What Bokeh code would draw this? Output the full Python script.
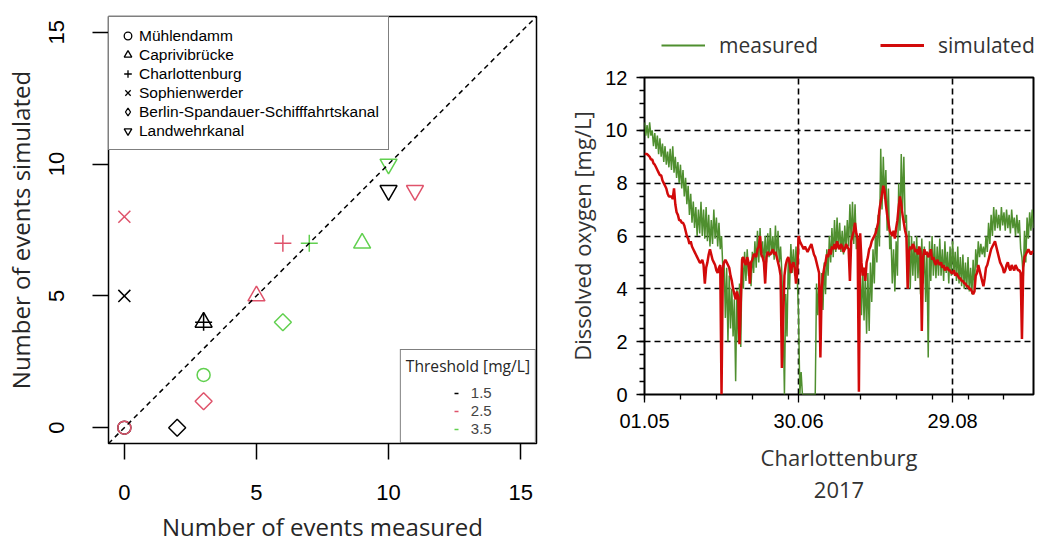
import numpy as np
from bokeh.plotting import figure
from bokeh.models import FixedTicker, Legend, LegendItem, Slope, LinearAxis, Range1d
from bokeh.layouts import row, column
from bokeh.embed import file_html
from bokeh.resources import INLINE

# ---------------- left panel data ----------------
stations = ["Mühlendamm", "Caprivibrücke", "Charlottenburg", "Sophienwerder",
            "Berlin-Spandauer-Schifffahrtskanal", "Landwehrkanal"]
station_markers = ["circle", "triangle", "cross", "x", "square", "inverted_triangle"]
thresholds = ["1.5", "2.5", "3.5"]
threshold_colors = ["#000000", "#DF536B", "#61D04F"]
nan = float("nan")
measured_15 = [0, 3, 3, 0, 2, 10]
simulated_15 = [0, 4, 4, 5, 0, 9]
measured_25 = [0, 5, 6, 0, 3, 11]
simulated_25 = [0, 5, 7, 8, 1, 9]
measured_35 = [3, 9, 7, nan, 6, 10]
simulated_35 = [2, 7, 7, nan, 4, 10]
axis_ticks_left = [0, 5, 10, 15]

# ---------------- right panel data ----------------
date_tick_days = [0, 60, 120]
date_tick_labels = ["01.05", "30.06", "29.08"]
series_names = ["measured", "simulated"]
# dissolved oxygen, two readings per day (00:00, 12:00) from 01.05
measured_do = [
    10.3, 9.8, 10.2, 9.7, 10.3, 9.8, 10.0, 9.4, 9.9, 9.3, 9.8, 9.1, 9.7, 9.0, 9.5, 8.8,
    9.4, 8.7, 9.2, 8.6, 9.3, 8.5, 9.4, 8.4, 9.0, 8.2, 8.8, 8.0, 8.7, 7.8, 8.5, 7.5,
    8.2, 7.2, 7.9, 6.8, 7.6, 6.5, 7.3, 6.3, 7.1, 6.0, 7.0, 6.1, 7.3, 6.0, 7.0, 5.9,
    7.1, 5.8, 6.8, 5.6, 6.6, 5.7, 7.0, 5.9, 6.7, 5.6, 6.5, 5.5, 6.0, 4.8, 5.0, 2.9,
    4.8, 2.0, 4.5, 2.5, 4.0, 2.2, 3.6, 0.5, 4.0, 2.0, 4.2, 1.8, 5.2, 4.0, 5.4, 4.3,
    5.5, 4.5, 5.0, 4.1, 5.4, 4.6, 5.8, 4.8, 6.2, 5.0, 6.3, 5.2, 5.8, 4.9, 6.0, 5.0,
    6.1, 5.2, 6.3, 5.3, 6.0, 5.1, 6.4, 5.2, 6.2, 5.0, 5.6, 4.6, 2.8, 0.0, 3.8, 2.2,
    5.2, 4.0, 5.7, 4.6, 5.5, 4.5, 5.6, 4.4, 3.0, 0.0, 0.85, 0.0, 0.0, 0.0, 0.0, 0.0,
    0.0, 0.0, 0.0, 0.0, 0.0, 0.0, 4.2, 3.0, 4.5, 2.8, 4.6, 3.2, 5.0, 3.8, 5.5, 4.5,
    6.0, 5.0, 6.3, 5.2, 6.6, 5.4, 6.7, 5.5, 6.5, 5.4, 6.2, 5.3, 6.4, 5.5, 6.6, 5.6,
    7.2, 5.8, 7.3, 5.7, 7.2, 5.5, 6.0, 3.5, 4.5, 3.0, 4.8, 2.8, 4.5, 2.3, 4.6, 2.4,
    5.0, 3.5, 5.5, 4.2, 6.3, 5.0, 6.8, 5.6, 9.3, 7.0, 9.0, 7.4, 8.5, 6.2, 7.8, 5.5,
    6.0, 4.2, 5.5, 3.9, 5.8, 4.5, 8.0, 6.2, 9.1, 7.0, 9.0, 6.5, 6.8, 4.2, 6.2, 4.0,
    6.0, 4.5, 5.8, 4.3, 6.0, 4.4, 5.5, 3.8, 5.9, 4.2, 5.6, 3.5, 5.4, 1.4, 5.8, 4.3,
    6.0, 4.5, 5.7, 4.4, 5.6, 4.5, 5.9, 4.5, 5.5, 4.3, 5.8, 4.6, 5.4, 4.2, 5.6, 4.5,
    5.8, 4.6, 5.4, 4.3, 5.6, 4.2, 5.2, 4.1, 5.3, 4.0, 5.0, 4.0, 5.2, 3.9, 4.8, 3.8,
    5.1, 3.9, 5.5, 4.8, 5.8, 5.2, 5.7, 5.3, 5.6, 5.2, 6.0, 5.4, 6.5, 5.7, 6.8, 6.0,
    7.1, 6.2, 7.0, 6.3, 6.8, 6.2, 7.1, 6.4, 6.9, 6.2, 7.0, 6.3, 6.8, 6.1, 7.0, 6.3,
    6.7, 6.0, 6.8, 6.1, 6.6, 5.5, 5.2, 4.4, 6.2, 5.0, 6.7, 5.9, 6.9, 6.2, 7.0, 6.3,
]
simulated_do = [
    9.1, 9.1, 9.1, 9.05, 9.0, 8.9, 8.9, 8.75, 8.7, 8.6, 8.5, 8.4, 8.3, 8.3, 8.1, 8.0,
    7.9, 7.8, 7.6, 7.5, 7.5, 7.5, 7.4, 7.8, 7.2, 6.9, 6.8, 6.6, 6.6, 6.5, 6.5, 6.4,
    6.2, 6.0, 5.9, 5.7, 5.8, 5.6, 5.5, 5.4, 5.3, 5.2, 5.1, 5.0, 5.0, 5.1, 4.9, 4.2,
    4.8, 5.0, 5.3, 5.5, 5.3, 5.1, 5.0, 4.9, 4.7, 4.6, 4.8, 4.9, 0.0, 4.8, 5.0, 5.1,
    5.0, 4.9, 4.8, 4.5, 4.3, 4.0, 3.8, 3.6, 3.9, 3.7, 1.9, 3.5, 5.1, 5.2, 5.0, 4.9,
    5.2, 5.0, 4.2, 5.0, 5.1, 5.3, 5.3, 5.2, 5.5, 5.6, 6.0, 5.3, 5.2, 5.0, 4.2, 5.2,
    5.4, 5.3, 5.3, 5.4, 5.5, 5.3, 5.4, 5.2, 5.0, 4.8, 4.5, 1.0, 2.8, 4.5, 4.9, 5.1,
    5.2, 5.0, 4.6, 4.9, 5.0, 4.8, 4.2, 4.6, 6.0, 5.8, 5.7, 5.6, 5.5, 5.6, 5.5, 5.4,
    5.5, 5.6, 5.7, 5.5, 5.3, 5.2, 5.0, 4.8, 4.6, 1.4, 4.0, 4.5, 4.8, 5.0, 5.3, 5.2,
    5.5, 5.3, 5.6, 5.5, 5.7, 5.5, 5.8, 5.6, 5.5, 5.7, 5.6, 5.4, 5.5, 5.7, 5.6, 5.5,
    4.3, 5.8, 6.0, 6.2, 6.5, 6.1, 5.9, 0.1, 6.1, 5.0, 4.5, 4.8, 4.3, 5.0, 5.2, 5.5,
    5.6, 5.8, 5.9, 6.0, 6.1, 6.3, 6.5, 7.0, 7.3, 7.6, 7.9, 7.7, 7.2, 6.8, 6.5, 6.2,
    6.1, 6.0, 6.2, 5.9, 6.3, 6.6, 7.1, 7.5, 7.2, 6.8, 6.5, 6.2, 6.0, 4.0, 5.4, 5.6,
    5.5, 5.7, 5.6, 5.4, 5.5, 5.3, 5.6, 5.4, 2.4, 5.2, 5.5, 5.3, 5.4, 5.2, 5.3, 5.5,
    5.1, 5.2, 5.0, 4.9, 5.1, 5.0, 4.9, 5.0, 4.8, 4.9, 4.7, 4.8, 4.8, 4.7, 4.7, 4.6,
    4.6, 4.7, 4.5, 4.6, 4.5, 4.4, 4.4, 4.3, 4.3, 4.2, 4.2, 4.1, 4.1, 4.0, 4.0, 3.9,
    3.8, 3.9, 4.5, 4.6, 4.9, 4.7, 4.5, 4.3, 4.1, 4.4, 4.8, 4.9, 5.1, 5.3, 5.5, 5.6,
    5.7, 5.8, 5.6, 5.4, 5.2, 5.0, 4.9, 4.8, 4.6, 4.7, 4.9, 5.0, 4.8, 4.7, 4.9, 4.8,
    4.7, 4.9, 4.8, 4.7, 4.7, 4.6, 2.1, 4.8, 5.2, 5.3, 5.4, 5.5, 5.4, 5.3, 5.4, 5.4,
]
day_offset = np.arange(len(measured_do)) * 0.5
minor_day_ticks = list(range(0, 152, 14))
series_colors = ["#4F8F2F", "#D20A0A"]
series_widths = [1.5, 2.5]

# ================= left figure =================
p1 = figure(width=548, height=545, x_range=Range1d(-0.6, 15.6), y_range=Range1d(-0.6, 15.6),
            output_backend="svg", toolbar_location=None,
            min_border_left=106, min_border_right=12, min_border_top=16, min_border_bottom=99)
p1.frame_align = False
p1.outline_line_color = "black"
p1.outline_line_width = 1.5
p1.grid.visible = False
p1.background_fill_color = "white"
p1.border_fill_color = "white"

for ax in (p1.xaxis[0], p1.yaxis[0]):
    ax.ticker = FixedTicker(ticks=axis_ticks_left)
    ax.axis_line_color = None
    ax.major_tick_out = 16
    ax.major_tick_in = 0
    ax.major_tick_line_width = 1.5
    ax.minor_tick_line_color = None
    ax.major_label_text_font = "Liberation Sans"
    ax.major_label_text_font_size = "22px"
    ax.major_label_text_color = "black"
    ax.axis_label_text_font = "Open Sans"
    ax.axis_label_text_font_size = "24px"
    ax.axis_label_text_font_style = "normal"
    ax.axis_label_text_color = "#262626"
p1.yaxis.major_label_orientation = "vertical"
p1.xaxis.major_label_standoff = 25
p1.yaxis.major_label_standoff = 28
p1.xaxis.axis_label = "Number of events measured"
p1.yaxis.axis_label = "Number of events simulated"
p1.xaxis.axis_label_standoff = 7
p1.yaxis.axis_label_standoff = 10

p1.add_layout(Slope(gradient=1, y_intercept=0, line_color="black", line_dash="5 4", line_width=1.5))

marker_sizes = {"circle": 13, "triangle": 17, "cross": 17, "x": 17, "square": 12, "inverted_triangle": 17}
series = [(measured_15, simulated_15), (measured_25, simulated_25), (measured_35, simulated_35)]
for (mx, sy), col in zip(series, threshold_colors):
    for i, mk in enumerate(station_markers):
        if np.isnan(mx[i]):
            continue
        p1.scatter(x=[mx[i]], y=[sy[i]], marker=mk, size=marker_sizes[mk],
                   angle=(np.pi / 4 if mk == "square" else 0),
                   line_color=col, fill_color=None, line_width=1.5)

# station legend (proxies)
legend_markers = ["circle", "triangle", "cross", "x", "diamond", "inverted_triangle"]
st_items = []
for name, mk in zip(stations, legend_markers):
    r = p1.scatter(x=[nan], y=[nan], marker=mk, size=10, line_color="black",
                   fill_color=None, line_width=1.3)
    st_items.append(LegendItem(label=name, renderers=[r]))
leg1 = Legend(items=st_items, location="top_left", margin=0, padding=9, spacing=0,
              glyph_width=19, glyph_height=19, label_height=19, label_standoff=2,
              label_text_font="Liberation Sans", label_text_font_size="15.5px",
              label_text_color="black",
              border_line_color="black", border_line_width=1.5,
              background_fill_color="white", background_fill_alpha=1)
p1.add_layout(leg1, "center")

# threshold legend: box, title and labels ...
blank = p1.scatter(x=[nan], y=[nan], marker="dash", size=5, line_alpha=0)
th_items = [LegendItem(label=t, renderers=[blank]) for t in thresholds]
leg2 = Legend(items=th_items, title="Threshold [mg/L]", location="bottom_right", margin=0,
              padding=5, spacing=0, glyph_width=65, glyph_height=12, label_height=18,
              label_standoff=0, title_standoff=6,
              title_text_font="Open Sans", title_text_font_size="15.6px",
              title_text_font_style="normal", title_text_color="#262626",
              label_text_font="Liberation Sans", label_text_font_size="15px",
              border_line_color="black", border_line_width=1.5,
              background_fill_color="white", background_fill_alpha=1)
p1.add_layout(leg2, "center")
# ... and the coloured dashes on top of it
dash_items = []
for t, col in zip(thresholds, threshold_colors):
    r = p1.scatter(x=[nan], y=[nan], marker="dash", size=5, line_color=col, line_width=1.5)
    dash_items.append(LegendItem(label=" ", renderers=[r]))
leg2b = Legend(items=dash_items, location=(343, 5), margin=0, padding=0, spacing=0,
               glyph_width=10, glyph_height=12, label_height=18, label_standoff=0,
               label_text_font="Liberation Sans", label_text_font_size="15px",
               border_line_color=None, background_fill_alpha=0)
p1.add_layout(leg2b, "center")

# ================= right side: legend strip + plot =================
lf = figure(width=498, height=67, output_backend="svg", toolbar_location=None,
            x_axis_location=None, y_axis_location=None, min_border=0,
            x_range=Range1d(0, 1), y_range=Range1d(0, 1))
lf.frame_align = False
lf.outline_line_color = None
lf.grid.visible = False
lf.background_fill_color = "white"
lf.border_fill_color = "white"
s_items = []
for name, col, lw in zip(series_names, series_colors, series_widths):
    r = lf.line(x=[nan, nan], y=[nan, nan], line_color=col, line_width=lw + 0.5)
    s_items.append(LegendItem(label=name, renderers=[r]))
leg3 = Legend(items=s_items, orientation="horizontal", location=(113, 7), margin=0,
              padding=0, spacing=62, glyph_width=44, glyph_height=30, label_height=30,
              label_standoff=14, label_text_font="Open Sans", label_text_font_size="21px",
              label_text_color="#333333", border_line_color=None, background_fill_alpha=0)
lf.add_layout(leg3, "center")

p2 = figure(width=498, height=478, x_range=Range1d(0, 151.5), y_range=Range1d(0, 12),
            output_backend="svg", toolbar_location=None,
            min_border_left=96, min_border_right=13, min_border_top=10, min_border_bottom=151)
p2.frame_align = False
p2.outline_line_color = "black"
p2.outline_line_width = 2
p2.background_fill_color = "white"
p2.border_fill_color = "white"

p2.xgrid.ticker = FixedTicker(ticks=date_tick_days[1:])
p2.ygrid.ticker = FixedTicker(ticks=[2, 4, 6, 8, 10])
for g in (p2.xgrid[0], p2.ygrid[0]):
    g.grid_line_color = "black"
    g.grid_line_dash = "6 4"
    g.grid_line_width = 1.6

xa = p2.xaxis[0]
ya = p2.yaxis[0]
xa.ticker = FixedTicker(ticks=date_tick_days, minor_ticks=minor_day_ticks)
xa.major_label_overrides = {d: lab for d, lab in zip(date_tick_days, date_tick_labels)}
ya.ticker = FixedTicker(ticks=list(range(0, 13, 2)), minor_ticks=list(np.arange(0, 12.01, 0.5)))
for ax in (xa, ya):
    ax.axis_line_color = None
    ax.major_tick_out = 8
    ax.major_tick_in = 0
    ax.minor_tick_out = 5
    ax.minor_tick_in = 0
    ax.major_tick_line_width = 1.3
    ax.minor_tick_line_width = 1.3
    ax.major_label_text_font = "Liberation Sans"
    ax.major_label_text_font_size = "20px"
    ax.major_label_text_color = "black"
    ax.axis_label_text_font = "Open Sans"
    ax.axis_label_text_font_size = "22px"
    ax.axis_label_text_font_style = "normal"
    ax.axis_label_text_color = "#333333"
xa.major_label_standoff = 11
ya.major_label_standoff = 9
xa.axis_label = "Charlottenburg"
xa.axis_label_standoff = 11
ya.axis_label = "Dissolved oxygen [mg/L]"
ya.axis_label_standoff = 5

year_axis = LinearAxis(ticker=FixedTicker(ticks=[]), axis_label="2017",
                       axis_line_color=None, major_tick_line_color=None,
                       minor_tick_line_color=None, axis_label_standoff=7,
                       axis_label_text_font="Open Sans", axis_label_text_font_size="22px",
                       axis_label_text_font_style="normal", axis_label_text_color="#333333")
p2.add_layout(year_axis, "below")

for vals, col, lw in zip([measured_do, simulated_do], series_colors, series_widths):
    p2.line(day_offset, vals, line_color=col, line_width=lw)

right = column(lf, p2, spacing=0)
layout = row(p1, right, spacing=0)
open("out.html", "w").write(file_html(layout, INLINE))
